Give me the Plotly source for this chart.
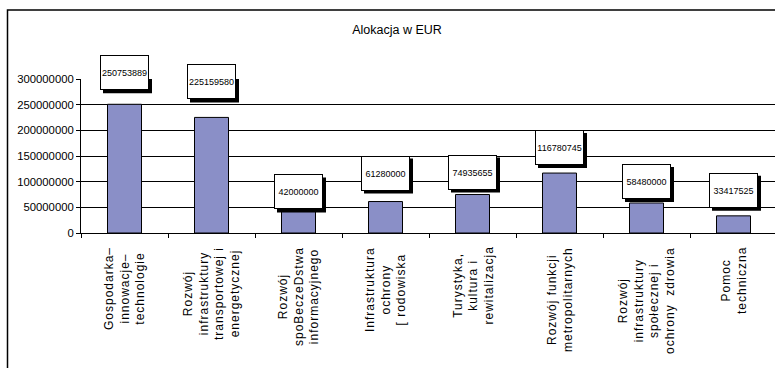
import plotly.graph_objects as go

# Allocation per priority axis (EUR)
category_lines = [
    ["Gospodarka–", "innowacje–", "technologie"],
    ["Rozwój", "infrastruktury", "transportowej i", "energetycznej"],
    ["Rozwój", "spoBeczeDstwa", "informacyjnego"],
    ["Infrastruktura", "ochrony", "[ rodowiska"],
    ["Turystyka,", "kultura i", "rewitalizacja"],
    ["Rozwój funkcji", "metropolitarnych"],
    ["Rozwój", "infrastruktury", "społecznej i", "ochrony  zdrowia"],
    ["Pomoc", "techniczna"],
]
values = [250753889, 225159580, 42000000, 61280000, 74935655, 116780745, 58480000, 33417525]
y_ticks = [0, 50000000, 100000000, 150000000, 200000000, 250000000, 300000000]

# pixel lift of each value box above its bar
label_lift = [14, 18, 2, 11, 5, 8, 4, 8]

SANS = "Liberation Sans, Arial, sans-serif"

W, H = 775, 368
L, T, B = 81, 79, 135
plot_w = W - L
plot_h = H - T - B
cat_px = 87.0
n = len(values)
xs = list(range(n))

BOX_W, BOX_H = 49, 35   # outer size of a value box
SHADOW = 3

fig = go.Figure(
    go.Bar(
        x=xs,
        y=values,
        width=34 / cat_px,
        marker=dict(color="#8a8fc7", line=dict(color="black", width=1)),
        hoverinfo="skip",
    )
)

annotations = []
shapes = []
for i, v in enumerate(values):
    # drop shadow behind the value box
    shapes.append(dict(
        type="rect", xref="x", yref="y", layer="above",
        xsizemode="pixel", ysizemode="pixel", xanchor=i, yanchor=v,
        x0=-BOX_W / 2 + SHADOW, x1=BOX_W / 2 + SHADOW,
        y0=label_lift[i] - SHADOW, y1=label_lift[i] - SHADOW + BOX_H,
        line=dict(width=0), fillcolor="black",
    ))
    annotations.append(dict(
        x=i, y=v, xref="x", yref="y", text=str(v), showarrow=False,
        font=dict(family=SANS, size=9, color="black"),
        bgcolor="white", bordercolor="black", borderwidth=1, borderpad=0,
        width=BOX_W - 2, height=BOX_H - 2,
        xanchor="center", yanchor="bottom", valign="middle",
        yshift=label_lift[i],
    ))

for i, lines in enumerate(category_lines):
    txt = "<br>".join(
        "<span style='letter-spacing:1px'>%s</span>" % s for s in lines
    )
    annotations.append(dict(
        x=i, y=0, xref="x", yref="y", text=txt, showarrow=False,
        textangle=-90, align="center",
        font=dict(family=SANS, size=12, color="black"),
        xanchor="center", yanchor="top", yshift=-12,
    ))

# outer chart frame
fx0 = (7.5 - L) / plot_w
fy1 = (H - B - 10) / plot_h
shapes.append(dict(
    type="rect", xref="paper", yref="paper",
    x0=fx0, x1=1.2, y0=-2.0, y1=fy1,
    line=dict(color="black", width=1.5), fillcolor="rgba(0,0,0,0)", layer="below",
))

fig.update_layout(
    width=W, height=H,
    margin=dict(l=L, r=0, t=T, b=B, pad=0),
    paper_bgcolor="white", plot_bgcolor="white",
    showlegend=False,
    title=dict(
        text="Alokacja w EUR", x=397 / W, xanchor="center",
        y=1 - 30 / H, yanchor="middle", xref="container", yref="container",
        font=dict(family=SANS, size=12.5, color="black"),
    ),
    annotations=annotations,
    shapes=shapes,
    xaxis=dict(
        range=[-0.5, -0.5 + plot_w / cat_px],
        tickvals=[i - 0.5 for i in range(n + 1)],
        showticklabels=False, ticks="outside", ticklen=4, tickcolor="black",
        showgrid=False, zeroline=False,
        showline=True, linecolor="black", linewidth=1,
        fixedrange=True,
    ),
    yaxis=dict(
        range=[0, 300000000],
        tickvals=y_ticks, ticktext=[str(t) for t in y_ticks],
        ticks="outside", ticklen=4, tickcolor="black",
        tickfont=dict(family=SANS, size=11.3, color="black"),
        showgrid=True, gridcolor="black", gridwidth=1,
        zeroline=False, showline=True, linecolor="black", linewidth=1,
        fixedrange=True,
    ),
)

fig.write_html("out.html")
